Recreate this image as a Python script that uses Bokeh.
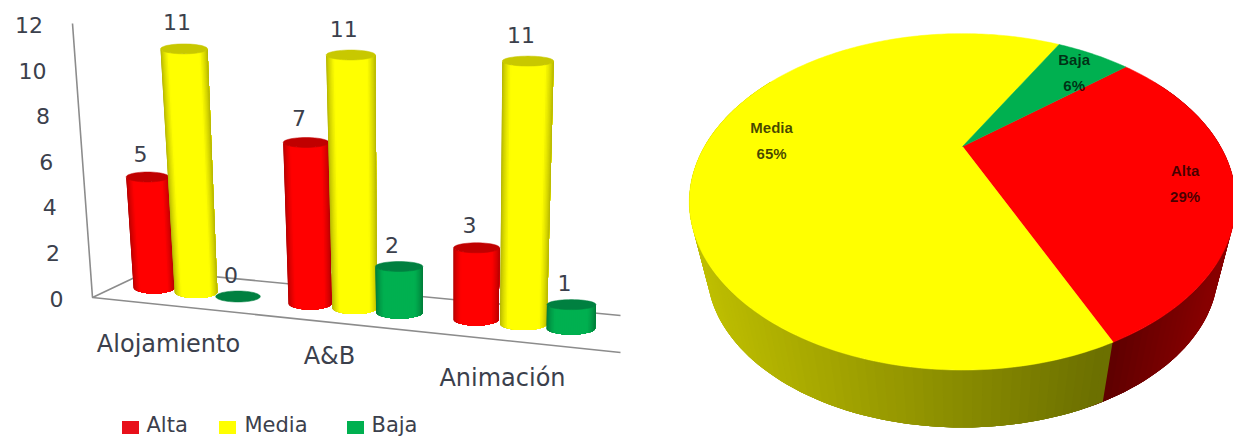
import math
from bokeh.core.properties import value
from bokeh.embed import file_html
from bokeh.layouts import row
from bokeh.models import Range1d
from bokeh.plotting import figure
from bokeh.resources import INLINE

# Ratings per service area
categories = ["Alojamiento", "A&B", "Animación"]
series_names = ["Alta", "Media", "Baja"]
alta = [5, 7, 3]
media = [11, 11, 11]
baja = [0, 2, 1]
y_tick_labels = ["0", "2", "4", "6", "8", "10", "12"]

# Overall count of each rating across the three areas
pie_names = ["Alta", "Baja", "Media"]
pie_counts = [sum(alta), sum(baja), sum(media)]

RED, YELLOW, GREEN = (255, 0, 0), (255, 255, 0), (0, 176, 80)
EDGE = {"Alta": (176, 0, 0), "Media": (176, 176, 0), "Baja": (0, 120, 56)}
LIGHT = {"Alta": RED, "Media": YELLOW, "Baja": GREEN}
CAP = {"Alta": "#c00000", "Media": "#c8c800", "Baja": "#008040"}
TEXT = "#3b404c"
FONT = value("DejaVu Sans")


def hex_mix(a, b, k):
    return "#%02x%02x%02x" % tuple(round(a[i] + (b[i] - a[i]) * k) for i in range(3))


def blank(width, x0, x1):
    fig = figure(width=width, height=437, output_backend="svg", toolbar_location=None,
                 x_range=Range1d(x0, x1), y_range=Range1d(437, 0),
                 min_border=0, outline_line_color=None, border_fill_color="white")
    fig.axis.visible = False
    fig.grid.visible = False
    return fig


# ---------- 3D cylinders ----------
bars = blank(640, 0, 640)

# chart walls and floor
bars.line([72, 92, 620], [23, 297, 352], line_color="#8c8c8c", line_width=1.6)
bars.line([92, 149, 620], [297, 270, 315], line_color="#8c8c8c", line_width=1.6)


def floor_point(c, s):
    """Screen position of the base centre for category c, series s."""
    x = 153.5 + 151 * c + 5 * c * c + s * (42 + 2.7 * c)
    y = 287 + 16 * c + 4.5 * s
    return x, y


def unit_height(c):
    return 22.1 + 0.9 * c


def cylinder(c, s, name, v):
    xb, yb = floor_point(c, s)
    w = 20.5 + c + 0.9 * s
    ry = 6.0
    lean = (xb - 432) * 0.0046
    xt = xb + lean * v
    yt = yb - v * unit_height(c)
    wt = w * (1 + 0.009 * v)
    ryt = 5.0 if v else 5.5
    n = 36
    ts = [-math.cos(math.pi * i / n) for i in range(n + 1)]
    if v:
        # each strip runs on to the cylinder's far edge so the next one paints over its seam
        for a, b in zip(ts[:-1], ts[1:]):
            arc = [q for q in ts if q >= a]
            low = [(xb + w * q, yb + ry * math.sqrt(max(0, 1 - q * q))) for q in arc]
            up = [(xt + wt * q, yt + ryt * math.sqrt(max(0, 1 - q * q))) for q in reversed(arc)]
            k = min(1.0, (1 - abs((a + b) / 2)) / 0.34) ** 0.7
            bars.patch([p[0] for p in low + up], [p[1] for p in low + up],
                       fill_color=hex_mix(EDGE[name], LIGHT[name], k), line_color=None)
    angs = [2 * math.pi * i / 48 for i in range(48)]
    bars.patch([xt + wt * math.cos(q) for q in angs], [yt + ryt * math.sin(q) for q in angs],
               fill_color=CAP[name], line_color=CAP[name], line_width=0.5)
    top_edge = yt - ryt
    bars.text([xt - 7], [top_edge - 16 - 0.5 * v], text=[str(v)], text_font=FONT, text_font_size="22px",
              text_color=TEXT, text_align="center", text_baseline="middle")


for c in range(len(categories)):
    for s, (name, vals) in enumerate(zip(series_names, (alta, media, baja))):
        cylinder(c, s, name, vals[c])

# value scale, following the slanted wall
for i, label in enumerate(y_tick_labels):
    v = i * 2
    bars.text([63 - 1.7 * v], [298 - 22.8 * v], text=[label], text_font=FONT, text_font_size="22px",
              text_color=TEXT, text_align="right", text_baseline="middle")

# category names along the front edge of the floor
cat_x, cat_y = [168, 329, 502], [343, 355, 377]
bars.text(cat_x, cat_y, text=categories, text_font=FONT, text_font_size="24px", text_color=TEXT,
          text_align="center", text_baseline="middle")

# legend
swatch_x = [130, 227, 355]
text_x = [146, 244, 371]
bars.rect(swatch_x, [427] * 3, width=17, height=13,
          fill_color=["#e8101a", "#ffff00", "#00b050"], line_color=None)
bars.text(text_x, [424] * 3, text=series_names, text_font=FONT, text_font_size="21px", text_color=TEXT,
          text_align="left", text_baseline="middle")

# ---------- 3D pie ----------
pie = blank(593, 640, 1233)
CX, CY = 962.0, 146.0
K, A, B = 0.329, 150.0, 258.0
DROP, SHRINK = 72.0, 0.935
ROTATION = 50.0


def top_point(theta, r=1.0):
    """Project a point of the pie's top face; theta is clockwise from twelve o'clock."""
    t = math.radians(theta)
    X, Y = r * math.sin(t), r * math.cos(t)
    d = 1 + K * Y
    return CX + B * X / d, CY - A * Y / d


def low_point(theta):
    x, y = top_point(theta)
    return CX + (x - CX) * SHRINK, CY + (y - CY) * SHRINK + DROP


# wedge limits, clockwise: Alta, then Media (Baja closes the circle)
total = sum(pie_counts)
spans = {n: p / total * 360 for n, p in zip(pie_names, pie_counts)}
alta_start = ROTATION
alta_end = alta_start + spans["Alta"]
media_end = alta_end + spans["Media"]
baja_end = media_end + spans["Baja"]

# rim, painted as overlapping shaded strips from one end of the arc to the other
RIM_START, RIM_END = 60.0, 300.0
theta = RIM_START
while theta < RIM_END:
    nxt = min(theta + 1.5, RIM_END)
    mid = (theta + nxt) / 2
    stop = min(theta + 6.0, RIM_END)
    steps = [theta + (stop - theta) * i / 4 for i in range(5)]
    upper = [top_point(q) for q in steps]
    lower = [low_point(q) for q in reversed(steps)]
    mx = top_point(mid)[0]
    if mid < alta_end:
        k = max(0.0, min(1.0, (mx - 1105) / 110))
        colour = hex_mix((92, 0, 0), (135, 0, 0), k)
    else:
        k = max(0.0, min(1.0, (mx - 700) / 400))
        colour = hex_mix((190, 190, 0), (108, 112, 0), k)
    pie.patch([p[0] for p in upper + lower], [p[1] for p in upper + lower],
              fill_color=colour, line_color=None)
    theta = nxt

# top face
labels = []
for name, start, end, colour in (("Alta", alta_start, alta_end, "#ff0000"),
                                 ("Media", alta_end, media_end, "#ffff00"),
                                 ("Baja", media_end, baja_end, "#00b050")):
    n = max(2, int(end - start))
    pts = [top_point(start + (end - start) * i / n) for i in range(n + 1)]
    pie.patch([CX] + [p[0] for p in pts], [CY] + [p[1] for p in pts],
              fill_color=colour, line_color=colour, line_width=0.5)
    labels.append((name, (start + end) / 2))

# wedge captions: radius on the face and a small turn keep them clear of the edges
caption_radius = {"Alta": 0.83, "Media": 0.75, "Baja": 0.78}
caption_turn = {"Alta": 3.0, "Media": 0.5, "Baja": 2.0}
shares = {n: round(p / total * 100) for n, p in zip(pie_names, pie_counts)}
for name, mid in labels:
    x, y = top_point(mid + caption_turn[name], caption_radius[name])
    pie.text([x, x], [y - 13, y + 13], text=[name, f"{shares[name]}%"],
             text_font=value("Liberation Sans"), text_font_size="15px", text_font_style="bold",
             text_color="#000000", text_alpha=0.72, text_align="center", text_baseline="middle")

layout = row(bars, pie, spacing=0)
open("out.html", "w").write(file_html(layout, INLINE))
